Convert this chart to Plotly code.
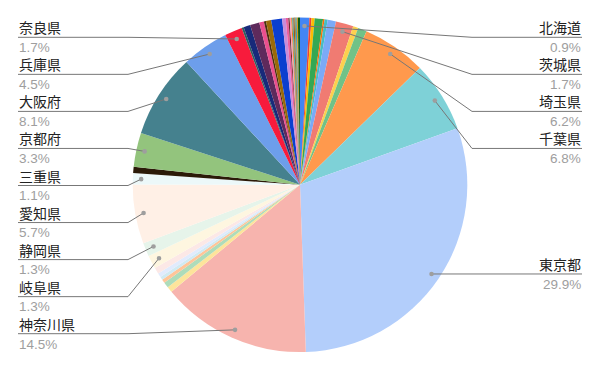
import math
import plotly.graph_objects as go

# ---------------- data ----------------
prefectures = [
    "北海道", "青森県", "岩手県", "宮城県", "秋田県", "山形県", "福島県",
    "茨城県", "栃木県", "群馬県", "埼玉県", "千葉県", "東京都", "神奈川県",
    "新潟県", "富山県", "石川県", "福井県", "山梨県", "長野県",
    "岐阜県", "静岡県", "愛知県", "三重県",
    "滋賀県", "京都府", "大阪府", "兵庫県", "奈良県", "和歌山県",
    "鳥取県", "島根県", "岡山県", "広島県", "山口県",
    "徳島県", "香川県", "愛媛県", "高知県",
    "福岡県", "佐賀県", "長崎県", "熊本県", "大分県", "宮崎県", "鹿児島県", "沖縄県",
]
values = [
    0.9, 0.2, 0.3, 0.8, 0.15, 0.3, 0.8,
    1.7, 0.5, 0.85, 6.2, 6.8, 29.9, 14.5,
    0.55, 0.55, 0.35, 0.3, 0.4, 0.6,
    1.3, 1.3, 5.7, 1.1,
    0.6, 3.3, 8.1, 4.5, 1.7, 0.2,
    0.65, 0.9, 0.45, 0.2, 0.5,
    1.05, 0.35, 0.25, 0.12,
    0.15, 0.1, 0.1, 0.12, 0.1, 0.1, 0.12, 0.2,
]
colors = [
    "#4285F4", "#EA4335", "#FBBC04", "#34A853", "#FF6D01", "#46BDC6", "#7BAAF7",
    "#F07B72", "#FCD04F", "#71C287", "#FF994D", "#7ED1D7", "#B3CEFB", "#F7B4AE",
    "#FDE49B", "#AEDCBA", "#FFC599", "#D0EAF2", "#E1EBFD", "#FCE8E6",
    "#FEF6E0", "#E6F4EA", "#FFF0E6", "#ECF8F9",
    "#2B1A08", "#93C47D", "#45818E", "#6D9EEB", "#F71B3C", "#2F5F5F",
    "#182A7A", "#5E2A5C", "#EA4F8E", "#4A2C10", "#9A6A08",
    "#0B3FCF", "#C98BD9", "#E8609E", "#6B2B2B",
    "#F0A0C0", "#E87D0E", "#2EA6A6", "#A0522D", "#8A9A3A", "#3D85C6", "#D4A017", "#0B5A1E",
]

left_labels = ["奈良県", "兵庫県", "大阪府", "京都府", "三重県", "愛知県", "静岡県", "岐阜県", "神奈川県"]
right_labels = ["北海道", "茨城県", "埼玉県", "千葉県", "東京都"]

# ---------------- layout geometry ----------------
W, H = 600, 371
CX, CY, R = 300.0, 184.8, 167.3
DOT_R = 0.95 * R
LEFT_X, LEFT_ELBOW = 18.0, 128.0
RIGHT_X, RIGHT_ELBOW = 582.0, 472.0
SLOT0, SLOT_STEP = 37.3, 37.05


def px(x):
    return x / W


def py(y):
    return 1 - y / H


total = sum(values)
cum = 0.0
mid_frac = {}
for name, v in zip(prefectures, values):
    mid_frac[name] = (cum + v / 2) / total
    cum += v


def dot_xy(name):
    a = 2 * math.pi * mid_frac[name]
    return CX + DOT_R * math.sin(a), CY - DOT_R * math.cos(a)


fig = go.Figure(
    go.Pie(
        labels=prefectures,
        values=values,
        sort=False,
        direction="clockwise",
        rotation=0,
        textinfo="none",
        hoverinfo="skip",
        marker=dict(colors=colors, line=dict(width=0)),
        domain=dict(x=[px(CX - R), px(CX + R)], y=[py(CY + R), py(CY - R)]),
        showlegend=False,
    )
)

shapes = []
annotations = []
LINE_COLOR = "#777777"
NAME_FONT = dict(family="Noto Sans CJK JP", size=14, color="#222222")
PCT_FONT = dict(family="Liberation Sans, Arial", size=13.5, color="#9E9E9E")


def add_label(name, line_y, side):
    dx, dy = dot_xy(name)
    pct = values[prefectures.index(name)] / total * 100
    if side == "left":
        x0, xe, anchor = LEFT_X, LEFT_ELBOW, "left"
    else:
        x0, xe, anchor = RIGHT_X, RIGHT_ELBOW, "right"
    shapes.append(dict(type="line", xref="paper", yref="paper",
                       x0=px(x0), y0=py(line_y), x1=px(xe), y1=py(line_y),
                       line=dict(color=LINE_COLOR, width=1)))
    shapes.append(dict(type="line", xref="paper", yref="paper",
                       x0=px(xe), y0=py(line_y), x1=px(dx), y1=py(dy),
                       line=dict(color=LINE_COLOR, width=1)))
    shapes.append(dict(type="circle", xref="paper", yref="paper",
                       x0=px(dx - 2.3), x1=px(dx + 2.3), y0=py(dy + 2.3), y1=py(dy - 2.3),
                       fillcolor="#9E9E9E", line=dict(width=0)))
    annotations.append(dict(xref="paper", yref="paper", x=px(x0), y=py(line_y - 10),
                            text=name, showarrow=False, xanchor=anchor, yanchor="middle",
                            font=NAME_FONT, borderpad=0))
    annotations.append(dict(xref="paper", yref="paper", x=px(x0), y=py(line_y + 10.3),
                            text=f"{pct:.1f}%", showarrow=False, xanchor=anchor, yanchor="middle",
                            font=PCT_FONT, borderpad=0))


for k, name in enumerate(left_labels):
    add_label(name, SLOT0 + SLOT_STEP * k, "left")

for k, name in enumerate(right_labels):
    if name == "東京都":
        line_y = dot_xy(name)[1]
    else:
        line_y = SLOT0 + SLOT_STEP * k
    add_label(name, line_y, "right")

fig.update_layout(
    width=W, height=H,
    margin=dict(l=0, r=0, t=0, b=0),
    paper_bgcolor="white", plot_bgcolor="white",
    shapes=shapes, annotations=annotations,
)

fig.write_html(
    "out.html",
    config={"displayModeBar": False},
    post_script="document.body.style.margin='0px';document.body.style.padding='0px';",
)
